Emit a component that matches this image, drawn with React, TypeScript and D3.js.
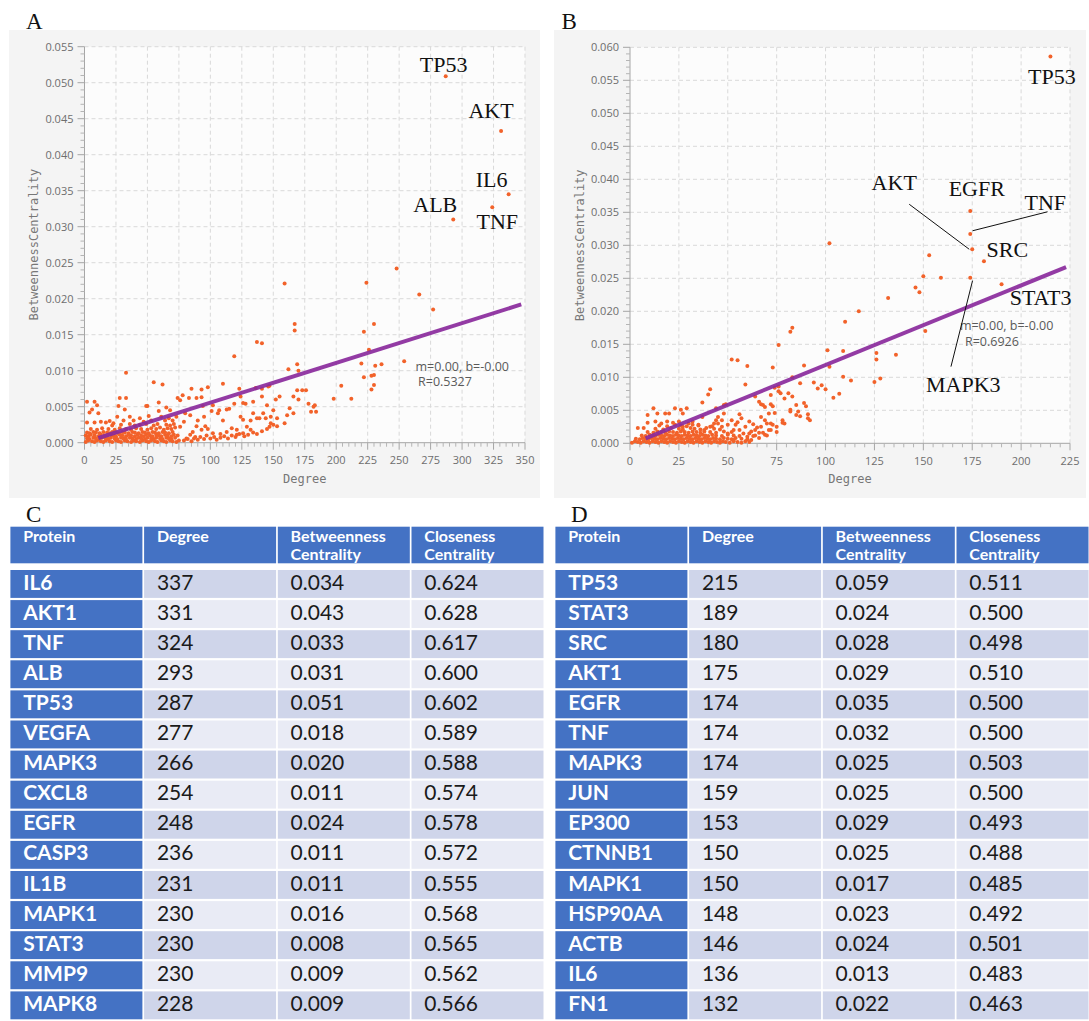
import * as d3 from "d3";

// ---------- panel A: first network, degree vs betweenness ----------
const X_TICKS_A = [0, 25, 50, 75, 100, 125, 150, 175, 200, 225, 250, 275, 300, 325, 350];
const Y_TICKS_A = [0, 0.005, 0.01, 0.015, 0.02, 0.025, 0.03, 0.035, 0.04, 0.045, 0.05, 0.055];

// scattered nodes (degree, betweenness)
const POINTS_A: [number, number][] = [
  [287, .0509], [331, .0433], [337, .0345], [324, .0327], [293, .031],
  [248, .0242], [159, .0221], [224, .0222], [266, .0206], [277, .0185],
  [167, .0165], [167, .0156], [230, .0165], [222, .0154], [137, .014], [141, .0138], [119, .012], [226, .0129], [254, .0113],
  [169, .0109], [162, .0102], [170, .0100], [220, .0110], [231, .0107], [236, .0109], [222, .0091], [228, .0093], [230, .0094],
  [228, .0074], [230, .0080], [204, .0079], [198, .0061], [212, .0061],
  [33, .0097], [55, .0084], [62, .0081], [110, .0082], [98, .0077], [93, .0074], [85, .0075], [123, .0075], [136, .0076],
  [146, .0078], [176, .0073], [173, .0073],
  [182, .0050], [180, .0043], [184, .0043], [183, .0052], [178, .0054], [170, .0060], [169, .0073], [166, .0064], [152, .0060],
  [155, .0064], [145, .0052], [141, .0064], [141, .0075], [147, .0079], [134, .0057], [128, .0054], [124, .0064], [126, .0055],
  [119, .0054], [113, .0046], [115, .0047], [107, .0045], [106, .0041], [101, .0044], [93, .0063], [94, .0051], [102, .0052],
  [83, .0062], [78, .0066], [74, .0062], [89, .0062], [76, .0059], [59, .0056], [50, .0051], [28, .0062], [33, .0062],
  [2, .0057], [8, .0057], [10, .0052], [6, .0046], [11, .0041], [4, .0042],
  [27, .0051], [32, .0046], [49, .0051], [59, .0044], [61, .0036], [64, .0031], [67, .0034], [65, .0049], [68, .0045],
  [70, .0031], [73, .0036], [80, .0041], [84, .0038], [79, .0029], [76, .0022],
  [26, .0036], [31, .0031], [36, .0036], [39, .0031], [44, .0034], [47, .0029], [51, .0037], [53, .0031],
  [2, .0028], [8, .0028], [13, .0029], [17, .0028], [20, .0030], [23, .0027],
  [95, .0036], [90, .0031], [89, .0023], [96, .0023], [98, .0019], [93, .0018], [86, .0015], [84, .0011], [88, .0008], [81, .0006],
  [110, .0031], [108, .0012], [102, .0013], [113, .0015], [117, .0020], [121, .0018], [129, .0022], [124, .0036], [126, .0032],
  [134, .0041], [137, .0034], [132, .0031], [142, .0041], [144, .0034], [148, .0027], [153, .0023], [150, .0045], [163, .0048],
  [161, .0038], [166, .0041], [159, .0027], [153, .0034], [148, .0036], [147, .0022], [139, .0034], [132, .0018], [126, .0013],
  [121, .0011],
  [79, .0003], [82, .0005], [85, .0002], [87, .0006], [90, .0004], [92, .0008], [95, .0005], [97, .0010], [100, .0006],
  [103, .0008], [105, .0004], [108, .0007], [111, .0009], [114, .0006], [117, .0010], [120, .0008], [123, .0012], [127, .0009],
  [130, .0011], [134, .0014], [137, .0012], [141, .0016], [145, .0019], [150, .0025],
];

// the solid mass of low-degree nodes
const CORE_A: [number, number][] = [
  [1, .0001], [3, .0003], [6, .0002], [8, .0001], [10, .0003], [13, .0002], [15, .0001], [17, .0003], [20, .0002], [22, .0001],
  [25, .0003], [27, .0002], [29, .0001], [32, .0003], [34, .0002], [37, .0001], [39, .0003], [41, .0002], [44, .0001], [46, .0003],
  [49, .0002], [51, .0001], [53, .0003], [56, .0002], [58, .0001], [61, .0003], [63, .0002], [65, .0001], [68, .0003], [70, .0002],
  [73, .0001], [75, .0003],
  [2, .0006], [4, .0005], [7, .0007], [9, .0006], [12, .0005], [14, .0007], [17, .0006], [19, .0005], [21, .0007], [24, .0006],
  [26, .0005], [29, .0007], [31, .0006], [33, .0005], [36, .0007], [38, .0006], [41, .0005], [43, .0007], [45, .0006], [48, .0005],
  [50, .0007], [53, .0006], [55, .0005], [57, .0007], [60, .0006], [62, .0005], [65, .0007], [67, .0006], [69, .0005], [72, .0007],
  [1, .0010], [3, .0009], [5, .0011], [8, .0010], [11, .0009], [13, .0011], [16, .0010], [18, .0009], [21, .0011], [23, .0010],
  [25, .0009], [28, .0011], [30, .0010], [33, .0009], [35, .0011], [37, .0010], [40, .0009], [42, .0011], [45, .0010], [47, .0009],
  [49, .0011], [52, .0010], [54, .0009], [57, .0011], [59, .0010], [61, .0009], [64, .0011], [66, .0010], [69, .0009], [71, .0011],
  [74, .0010],
  [2, .0014], [4, .0013], [7, .0015], [9, .0014], [12, .0013], [15, .0015], [18, .0014], [20, .0013], [22, .0015], [25, .0014],
  [27, .0013], [30, .0015], [32, .0014], [35, .0013], [38, .0015], [40, .0014], [43, .0013], [46, .0015], [48, .0014], [51, .0013],
  [54, .0015], [56, .0014], [59, .0013], [62, .0015], [64, .0014], [67, .0013], [70, .0015],
  [5, .0019], [10, .0018], [14, .0020], [19, .0019], [24, .0018], [28, .0020], [33, .0019], [37, .0018], [41, .0020], [45, .0019],
  [50, .0018], [53, .0020], [57, .0019], [60, .0021], [63, .0018], [66, .0020], [69, .0019], [72, .0021],
  [22, .0024], [29, .0025], [36, .0026], [40, .0024], [44, .0025], [49, .0026], [55, .0024], [58, .0026], [65, .0025], [68, .0024],
  [71, .0026],
];

const FIT_A: [number, number][] = [[11, 0.00065], [347, 0.0192]];
const FIT_TEXT_A = ["m=0.00, b=-0.00", "R=0.5327"];
const LABELS_A: [string, number, number][] = [
  ["TP53", 287, .0509], ["AKT", 331, .0433], ["IL6", 337, .0345], ["TNF", 324, .0327], ["ALB", 293, .031],
];

// ---------- panel B: second network ----------
const X_TICKS_B = [0, 25, 50, 75, 100, 125, 150, 175, 200, 225];
const Y_TICKS_B = [0, 0.005, 0.01, 0.015, 0.02, 0.025, 0.03, 0.035, 0.04, 0.045, 0.05, 0.055, 0.06];

const POINTS_B: [number, number][] = [
  [215, .0586], [174, .0352], [174, .0317], [175, .0294], [181, .0276], [174, .0251], [190, .0241],
  [153, .0285], [150, .0253], [159, .0251], [146, .0236], [148, .0229], [132, .0220], [117, .0200], [110, .0184], [151, .0170],
  [102, .0303], [136, .0134], [126, .0137], [126, .0127], [125, .0093], [128, .0098],
  [83, .0175], [82, .0169], [76, .0149], [101, .0141], [109, .0140], [52, .0127], [55, .0126], [60, .0117], [73, .0115],
  [89, .0118], [102, .0116], [83, .0100], [109, .0101], [113, .0095],
  [59, .0089], [87, .0091], [94, .0092], [96, .0083], [98, .0088], [100, .0082], [107, .0075], [104, .0069],
  [41, .0082], [40, .0074], [37, .0062], [74, .0084], [76, .0079], [77, .0076], [64, .0071], [66, .0063], [67, .0059], [69, .0055],
  [72, .0059], [74, .0046], [79, .0068], [83, .0071], [82, .0048], [85, .0043], [87, .0041], [89, .0061], [90, .0056], [91, .0044],
  [92, .0035], [78, .0031], [79, .0030], [70, .0030], [73, .0028], [67, .0025], [65, .0024], [61, .0033], [63, .0029], [61, .0015],
  [56, .0044], [49, .0059], [53, .0020], [53, .0005], [48, .0045], [44, .0053], [45, .0040],
  [68, .0058], [72, .0073], [73, .0056], [71, .0045], [67, .0040], [69, .0035], [72, .0030], [76, .0086], [81, .0076], [85, .0058],
  [82, .0051], [86, .0048], [91, .0038], [78, .0035], [75, .0025], [62, .0018], [59, .0025], [56, .0020], [54, .0028], [52, .0035],
  [48, .0058], [47, .0025], [50, .0015],
  [9, .0043], [12, .0053], [14, .0045], [18, .0045], [20, .0045], [23, .0053], [26, .0051], [27, .0045], [29, .0053],
  [9, .0031], [13, .0033], [16, .0030], [19, .0033], [22, .0031], [25, .0033], [27, .0025], [30, .0030], [32, .0033], [35, .0028],
  [37, .0040], [38, .0020], [41, .0025], [43, .0030], [44, .0035], [4, .0023], [7, .0023],
  [45, .0030], [47, .0035], [50, .0028], [55, .0032], [57, .0038], [58, .0015], [60, .0010], [62, .0005], [64, .0012], [66, .0008],
  [68, .0016], [70, .0012], [72, .0020], [64, .0020], [63, .0011], [66, .0016], [69, .0013], [71, .0020], [75, .0017],
];

const CORE_B: [number, number][] = [
  [1, .0001], [2.5, .0003], [4, .0002], [5.5, .0001], [7, .0003], [8.5, .0002], [10, .0001], [11.5, .0003], [13, .0002],
  [14.5, .0001], [16, .0003], [17.5, .0002], [19, .0001], [20.5, .0003], [22, .0002], [23.5, .0001], [25, .0003], [26.5, .0002],
  [28, .0001], [29.5, .0003], [31, .0002], [32.5, .0001], [34, .0003], [35.5, .0002], [37, .0001], [38.5, .0003], [40, .0002],
  [41.5, .0001], [43, .0003], [44.5, .0002], [46, .0001], [47.5, .0003], [49, .0002], [51, .0001], [53, .0003], [55, .0002],
  [57, .0001], [59, .0003], [61, .0002],
  [3, .0007], [5, .0006], [6.5, .0008], [8, .0007], [9.5, .0006], [11, .0008], [12.5, .0007], [14, .0006], [15.5, .0008],
  [17, .0007], [18.5, .0006], [20, .0008], [21.5, .0007], [23, .0006], [24.5, .0008], [26, .0007], [27.5, .0006], [29, .0008],
  [30.5, .0007], [32, .0006], [33.5, .0008], [35, .0007], [36.5, .0006], [38, .0008], [39.5, .0007], [41, .0006], [42.5, .0008],
  [44, .0007], [46, .0006], [48, .0008], [50, .0007], [52, .0006], [54, .0008], [57, .0007], [60, .0006],
  [6, .0012], [8, .0011], [10, .0013], [11.5, .0012], [13, .0011], [14.5, .0013], [16, .0012], [17.5, .0011], [19, .0013],
  [20.5, .0012], [22, .0011], [23.5, .0013], [25, .0012], [26.5, .0011], [28, .0013], [29.5, .0012], [31, .0011], [32.5, .0013],
  [34, .0012], [35.5, .0011], [37, .0013], [38.5, .0012], [40, .0011], [42, .0013], [44, .0012], [47, .0011], [50, .0013],
  [53, .0012], [56, .0011],
  [9, .0017], [12, .0016], [14, .0018], [16, .0017], [18, .0016], [20, .0018], [22, .0017], [24, .0016], [26, .0018], [28, .0017],
  [30, .0016], [32, .0018], [34, .0017], [36, .0016], [38, .0018], [41, .0017], [44, .0016], [48, .0018], [52, .0017],
  [13, .0022], [17, .0021], [21, .0023], [25, .0022], [27, .0021], [31, .0023], [33, .0022], [36, .0021], [39, .0023], [43, .0022],
  [46, .0021],
  [15, .0027], [19, .0026], [23, .0028], [26, .0027], [29, .0026], [32, .0028], [35, .0027], [42, .0026],
];

const FIT_B: [number, number][] = [[8, 0.00075], [223, 0.0267]];
const FIT_TEXT_B = ["m=0.00, b=-0.00", "R=0.6926"];
const LABELS_B: [string, number, number][] = [
  ["TP53", 215, .0586], ["AKT", 175, .0294], ["EGFR", 174, .0352], ["TNF", 174, .0317],
  ["SRC", 181, .0276], ["STAT3", 190, .0241], ["MAPK3", 174, .0251],
];

// ---------- tables C and D ----------
const TABLE_HEAD = [["Protein"], ["Degree"], ["Betweenness", "Centrality"], ["Closeness", "Centrality"]];

const PROTEIN_C = ["IL6", "AKT1", "TNF", "ALB", "TP53", "VEGFA", "MAPK3", "CXCL8", "EGFR", "CASP3", "IL1B", "MAPK1", "STAT3", "MMP9", "MAPK8"];
const DEGREE_C = [337, 331, 324, 293, 287, 277, 266, 254, 248, 236, 231, 230, 230, 230, 228];
const BETWEEN_C = ["0.034", "0.043", "0.033", "0.031", "0.051", "0.018", "0.020", "0.011", "0.024", "0.011", "0.011", "0.016", "0.008", "0.009", "0.009"];
const CLOSE_C = ["0.624", "0.628", "0.617", "0.600", "0.602", "0.589", "0.588", "0.574", "0.578", "0.572", "0.555", "0.568", "0.565", "0.562", "0.566"];

const PROTEIN_D = ["TP53", "STAT3", "SRC", "AKT1", "EGFR", "TNF", "MAPK3", "JUN", "EP300", "CTNNB1", "MAPK1", "HSP90AA", "ACTB", "IL6", "FN1"];
const DEGREE_D = [215, 189, 180, 175, 174, 174, 174, 159, 153, 150, 150, 148, 146, 136, 132];
const BETWEEN_D = ["0.059", "0.024", "0.028", "0.029", "0.035", "0.032", "0.025", "0.025", "0.029", "0.025", "0.017", "0.023", "0.024", "0.013", "0.022"];
const CLOSE_D = ["0.511", "0.500", "0.498", "0.510", "0.500", "0.500", "0.503", "0.500", "0.493", "0.488", "0.485", "0.492", "0.501", "0.483", "0.463"];

// ---------- layout ----------
const LAYOUT_A = {
  panel: [9, 30, 540, 498], plot: [84.5, 46.7, 525, 442.7], letter: "A", letterPos: [26, 29], yTitleX: 38,
  fitAt: [[263, 0.0100], [265, 0.00785]],
  offsets: { TP53: [-2, -4], AKT: [-10, -13], IL6: [-17, -7], TNF: [5, 22], ALB: [-18, -7.5] } as Record<string, number[]>,
  leaders: {} as Record<string, number[][]>,
};
const LAYOUT_B = {
  panel: [554, 30, 1086, 498], plot: [630, 47.3, 1070, 443.3], letter: "B", letterPos: [561.5, 28.5], yTitleX: 583.5,
  fitAt: [[168.7, 0.01717], [171.3, 0.01475]],
  offsets: { TP53: [1.5, 27.3], AKT: [-78, -59.3], EGFR: [6.5, -14.7], TNF: [75, -24], SRC: [23.4, -4.3], STAT3: [39, 21], MAPK3: [-7, 114] } as Record<string, number[]>,
  leaders: { AKT: [[-3, 0], [-63, -45]], TNF: [[2.3, -3.3], [77.3, -22.3]], MAPK3: [[2.3, 3], [-19.3, 89]] } as Record<string, number[][]>,
};

const DOT = "#f2622a";
const FIT = "#8a2a9c";
const TICK_FONT = "'Open Sans', 'Noto Sans', sans-serif";
const MONO = "'DejaVu Sans Mono', 'Liberation Mono', monospace";
const SERIF = "'Liberation Serif', 'Times New Roman', serif";
const TABLE_FONT = "Lato, 'Open Sans', sans-serif";

function Scatter({ layout, points, core, fit, fitText, xTicks, yTicks, labels }: any) {
  const [pl, pt, pr, pb] = layout.plot;
  const [bx0, by0, bx1, by1] = layout.panel;
  const xMax = xTicks[xTicks.length - 1];
  const yMax = yTicks[yTicks.length - 1];
  const x = d3.scaleLinear().domain([0, xMax]).range([pl, pr]);
  const y = d3.scaleLinear().domain([0, yMax]).range([pb, pt]);
  const fmt = d3.format(".3f");
  const xMinor = d3.range(0, xMax, 5).filter((v) => v % 25 !== 0);
  const yMinor = d3.range(0, Math.round(yMax / 0.001)).filter((i) => i % 5 !== 0).map((i) => i * 0.001);
  const line = d3.line<[number, number]>().x((d) => x(d[0])).y((d) => y(d[1]));
  const all = [...core, ...points];

  return (
    <g>
      <rect x={bx0} y={by0} width={bx1 - bx0} height={by1 - by0} fill="#f4f4f4" />
      <rect x={pl} y={pt} width={pr - pl} height={pb - pt} fill="#fcfcfc" />
      <text x={layout.letterPos[0]} y={layout.letterPos[1]} fontFamily={SERIF} fontSize={23} fill="#111">{layout.letter}</text>

      {/* dashed grid */}
      {xTicks.filter((v: number) => v > 0).map((v: number) => (
        <line key={"gx" + v} x1={x(v)} x2={x(v)} y1={pt} y2={pb} stroke="#d9d9d9" strokeDasharray="4,3" />
      ))}
      {yTicks.filter((v: number) => v > 0).map((v: number) => (
        <line key={"gy" + v} x1={pl} x2={pr} y1={y(v)} y2={y(v)} stroke="#d9d9d9" strokeDasharray="4,3" />
      ))}

      {/* axes */}
      <line x1={pl} x2={pl} y1={pt} y2={pb} stroke="#a6a6a6" />
      <line x1={pl} x2={pr} y1={pb} y2={pb} stroke="#a6a6a6" />
      {xTicks.map((v: number) => (
        <g key={"xt" + v}>
          <line x1={x(v)} x2={x(v)} y1={pb} y2={pb + 7} stroke="#a6a6a6" />
          <text x={x(v)} y={pb + 21.5} textAnchor="middle" fontFamily={TICK_FONT} fontSize={11} fill="#6e6e6e">{v}</text>
        </g>
      ))}
      {xMinor.map((v: number) => (
        <line key={"xm" + v} x1={x(v)} x2={x(v)} y1={pb} y2={pb + 4} stroke="#b5b5b5" />
      ))}
      {yTicks.map((v: number) => (
        <g key={"yt" + v}>
          <line x1={pl - 7} x2={pl} y1={y(v)} y2={y(v)} stroke="#a6a6a6" />
          <text x={pl - 11} y={y(v)} dy="0.36em" textAnchor="end" fontFamily={TICK_FONT} fontSize={11} fill="#6e6e6e">{fmt(v)}</text>
        </g>
      ))}
      {yMinor.map((v: number) => (
        <line key={"ym" + v} x1={pl - 4} x2={pl} y1={y(v)} y2={y(v)} stroke="#b5b5b5" />
      ))}
      <text x={(pl + pr) / 2} y={482.7} textAnchor="middle" fontFamily={MONO} fontSize={12} fill="#777">Degree</text>
      <text transform={`translate(${layout.yTitleX},${(pt + pb) / 2}) rotate(-90)`} textAnchor="middle" fontFamily={MONO} fontSize={12} fill="#777">
        BetweennessCentrality
      </text>

      {/* nodes */}
      {all.map((d: [number, number], i: number) => (
        <circle key={"p" + i} cx={x(d[0])} cy={y(d[1])} r={2} fill={DOT} />
      ))}

      {/* linear fit */}
      <path d={line(fit) || ""} stroke={FIT} strokeWidth={4} strokeOpacity={0.92} fill="none" />
      {fitText.map((t: string, i: number) => (
        <text key={"ft" + i} x={x(layout.fitAt[i][0])} y={y(layout.fitAt[i][1])} fontFamily={TICK_FONT} fontSize={12.5} fill="#5a5a5a">{t}</text>
      ))}

      {/* hub labels */}
      {labels.map(([name, dg, bc]: [string, number, number]) => {
        const px = x(dg);
        const py = y(bc);
        const [dx, dy] = layout.offsets[name];
        const ld = layout.leaders[name];
        return (
          <g key={"lb" + name}>
            {ld && (
              <line x1={px + ld[0][0]} y1={py + ld[0][1]} x2={px + ld[1][0]} y2={py + ld[1][1]} stroke="#111" strokeWidth={1} />
            )}
            <text x={px + dx} y={py + dy} textAnchor="middle" fontFamily={SERIF} fontSize={22} fill="#111">{name}</text>
          </g>
        );
      })}
    </g>
  );
}

function Table({ x0, letter, proteins, degree, between, close }: any) {
  const pitch = 133.7;
  const cellW = 132;
  const headTop = 526.7;
  const headH = 36.6;
  const rowTop = 570;
  const rowPitch = 30.1;
  const rowH = 27.9;
  const pad = 12.8;
  const clipId = "hclip" + letter;
  const cols = [proteins, degree, between, close];

  return (
    <g>
      <text x={x0 + 15.6} y={521.7} fontFamily={SERIF} fontSize={23} fill="#111">{letter}</text>
      <defs>
        <clipPath id={clipId}>
          <rect x={x0} y={headTop} width={pitch * 4} height={headH} />
        </clipPath>
      </defs>
      {TABLE_HEAD.map((lines, c) => (
        <g key={"h" + c}>
          <rect x={x0 + c * pitch} y={headTop} width={cellW} height={headH} fill="#4472c4" />
          <g clipPath={`url(#${clipId})`}>
            {lines.map((t, k) => (
              <text key={k} x={x0 + c * pitch + pad} y={headTop + 15 + k * 18.3} fontFamily={TABLE_FONT} fontWeight={700} fontSize={16} fill="#fff">{t}</text>
            ))}
          </g>
        </g>
      ))}
      {proteins.map((_: string, r: number) => {
        const top = rowTop + r * rowPitch;
        const band = r % 2 === 0 ? "#cfd5ea" : "#e9ebf5";
        return (
          <g key={"r" + r}>
            {cols.map((col: any[], c: number) => (
              <g key={c}>
                <rect x={x0 + c * pitch} y={top} width={cellW} height={rowH} fill={c === 0 ? "#4472c4" : band} />
                <text x={x0 + c * pitch + pad} y={top + 19.5} fontFamily={TABLE_FONT} fontWeight={c === 0 ? 700 : 400}
                  fontSize={21} fill={c === 0 ? "#fff" : "#1a1a1a"}>{String(col[r])}</text>
              </g>
            ))}
          </g>
        );
      })}
    </g>
  );
}

export default function App() {
  return (
    <svg width={1089} height={1021} style={{ position: "absolute", left: 0, top: 0, background: "#fff", display: "block" }}>
      <Scatter layout={LAYOUT_A} points={POINTS_A} core={CORE_A} fit={FIT_A} fitText={FIT_TEXT_A}
        xTicks={X_TICKS_A} yTicks={Y_TICKS_A} labels={LABELS_A} />
      <Scatter layout={LAYOUT_B} points={POINTS_B} core={CORE_B} fit={FIT_B} fitText={FIT_TEXT_B}
        xTicks={X_TICKS_B} yTicks={Y_TICKS_B} labels={LABELS_B} />
      <Table x0={10.4} letter="C" proteins={PROTEIN_C} degree={DEGREE_C} between={BETWEEN_C} close={CLOSE_C} />
      <Table x0={555.4} letter="D" proteins={PROTEIN_D} degree={DEGREE_D} between={BETWEEN_D} close={CLOSE_D} />
    </svg>
  );
}
